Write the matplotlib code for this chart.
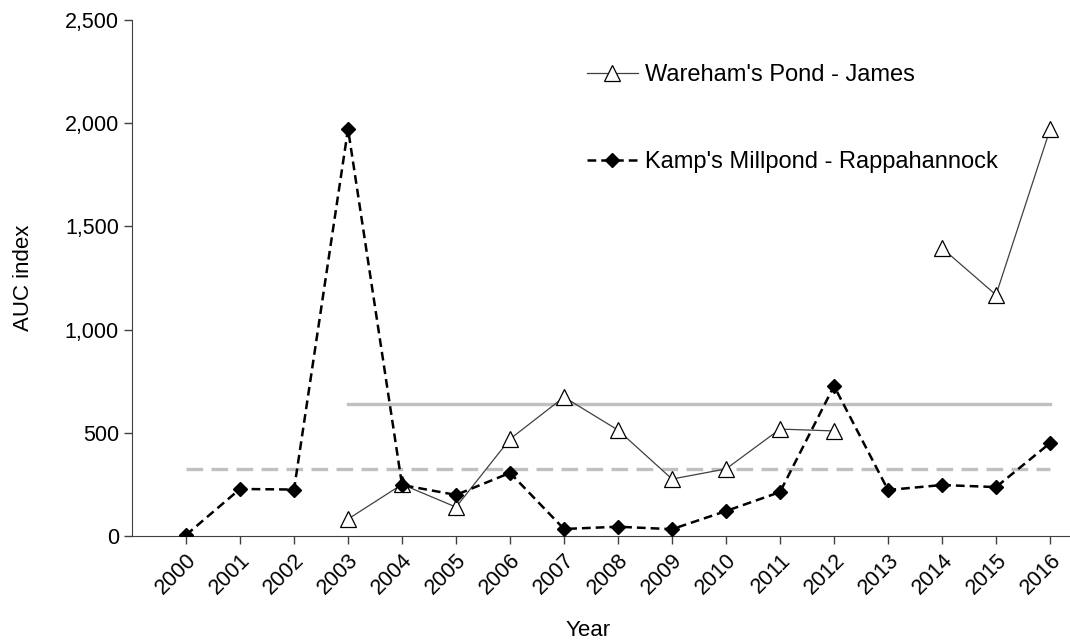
import numpy as np
import matplotlib
matplotlib.use("Agg")
import matplotlib.pyplot as plt

plt.rcParams['font.family'] = ['Liberation Sans', 'DejaVu Sans']

years = list(range(2000, 2017))
wareham = [np.nan, np.nan, np.nan, 82, 250, 140, 470, 673, 513, 276, 325, 518, 509, np.nan, 1395, 1168, 1970]
kamp = [5, 228, 225, 1972, 247, 199, 306, 34, 45, 33, 121, 213, 727, 223, 247, 237, 450]

w_mean = np.nanmean(wareham)
k_mean = np.mean(kamp)

fig = plt.figure(figsize=(10.7, 6.41), dpi=100)
ax = fig.add_axes([0.1234, 0.1638, 0.8766, 0.805])

# long-term means
ax.plot([2003, 2016], [w_mean, w_mean], color='#c0c0c0', lw=2.4, zorder=1)
ax.plot([2000, 2016], [k_mean, k_mean], color='#c0c0c0', lw=2.4, dashes=(5, 2.5), zorder=1)

ax.plot(years, wareham, color='#404040', lw=0.9, marker='^', markersize=11,
        markerfacecolor='white', markeredgecolor='black', markeredgewidth=0.9,
        label="Wareham's Pond - James", zorder=3)
ax.plot(years, kamp, color='black', lw=1.8, dashes=(3.5, 2), marker='D', markersize=7,
        markerfacecolor='black', markeredgecolor='black',
        label="Kamp's Millpond - Rappahannock", zorder=4)

ax.set_xlim(1999, 2016.37)
ax.set_ylim(0, 2500)
ax.set_xticks(years)
ax.set_xticklabels([str(y) for y in years], rotation=45, ha='right', va='top',
                   rotation_mode='anchor', fontsize=15.5)
ax.set_yticks([0, 500, 1000, 1500, 2000, 2500])
ax.set_yticklabels(['0', '500', '1,000', '1,500', '2,000', '2,500'], fontsize=15.5)
ax.tick_params(axis='both', direction='out', length=6, width=1, color='#404040')
ax.tick_params(axis='x', pad=4)

for s in ['top', 'right']:
    ax.spines[s].set_visible(False)
for s in ['left', 'bottom']:
    ax.spines[s].set_color('#404040')

ax.set_xlabel('Year', fontsize=16)
ax.xaxis.set_label_coords(0.486, -0.163)
ax.set_ylabel('AUC index', fontsize=16)
ax.yaxis.set_label_coords(-0.105, 0.5)

ax.legend(loc='upper left', bbox_to_anchor=(0.485, 0.915), frameon=False, fontsize=17,
          labelspacing=2.75, handlelength=2.15, handletextpad=0.3,
          borderpad=0, borderaxespad=0)

fig.savefig('out.png', dpi=100)
